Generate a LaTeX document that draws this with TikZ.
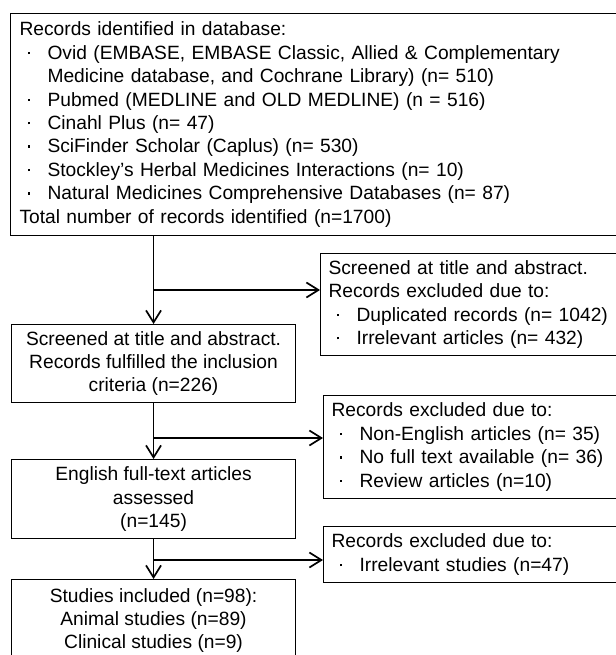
\documentclass[tikz,border=0pt]{standalone}
\usepackage{fontspec}
\setmainfont{Liberation Sans}
\usetikzlibrary{arrows.meta}
\newcommand{\bul}{\makebox[28pt][l]{\hspace{8pt}\raisebox{0.27em}{\rule{2.4pt}{2.4pt}}}}
\newcommand{\ind}{\hspace*{28pt}}
\begin{document}
\begin{tikzpicture}
[
    x=1pt, y=-1pt,
    font=\fontsize{19.2}{23.4}\selectfont,
    box/.style={draw, line width=1.1pt, inner ysep=0pt},
    leftbox/.style={box, anchor=north west, align=left, inner xsep=8pt},
    midbox/.style={box, anchor=north west, align=center, minimum width=284pt},
    flow/.style={draw, line width=1.7pt, -{Straight Barb[length=12pt,width=15pt]}}
]
    \useasboundingbox (0,0) rectangle (615,655);

    \node [leftbox, inner xsep=9pt, text width=600pt, minimum height=222pt] (records) at (10,13)
        {Records identified in database:\\
         \bul Ovid (EMBASE, EMBASE Classic, Allied \& Complementary\\
         \ind Medicine database, and Cochrane Library) (n= 510)\\
         \bul Pubmed (MEDLINE and OLD MEDLINE) (n = 516)\\
         \bul Cinahl Plus (n= 47)\\
         \bul SciFinder Scholar (Caplus) (n= 530)\\
         \bul Stockley’s Herbal Medicines Interactions (n= 10)\\
         \bul Natural Medicines Comprehensive Databases (n= 87)\\
         Total number of records identified (n=1700)};
    \node [leftbox, text width=300pt, minimum height=102pt] (excl1) at (320,253)
        {Screened at title and abstract.\\
         Records excluded due to:\\
         \bul Duplicated records (n= 1042)\\
         \bul Irrelevant articles (n= 432)};
    \node [midbox, minimum height=78pt] (screen) at (11,324)
        {Screened at title and abstract.\\
         Records fulfilled the inclusion\\
         criteria (n=226)};
    \node [leftbox, text width=300pt, minimum height=103pt] (excl2) at (323,395)
        {Records excluded due to:\\
         \bul Non-English articles (n= 35)\\
         \bul No full text available (n= 36)\\
         \bul Review articles (n=10)};
    \node [midbox, minimum height=79pt] (fulltext) at (11,459)
        {English full-text articles\\
         assessed\\
         (n=145)};
    \node [leftbox, text width=300pt, minimum height=56pt] (excl3) at (323,526)
        {Records excluded due to:\\
         \bul Irrelevant studies (n=47)};
    \node [midbox, minimum height=82pt] (included) at (11,579)
        {Studies included (n=98):\\
         Animal studies (n=89)\\
         Clinical studies (n=9)};

    % branch points on the main line
    \coordinate (j1) at (153,290);
    \coordinate (j2) at (153,438);
    \coordinate (j3) at (153,560);

    \draw [flow] (records.south -| screen.north) -- (screen.north);
    \draw [flow] (j1) -- (j1 -| excl1.west);
    \draw [flow] (screen.south) -- (fulltext.north);
    \draw [flow] (j2) -- (j2 -| excl2.west);
    \draw [flow] (fulltext.south) -- (included.north);
    \draw [flow] (j3) -- (j3 -| excl3.west);
\end{tikzpicture}
\end{document}
